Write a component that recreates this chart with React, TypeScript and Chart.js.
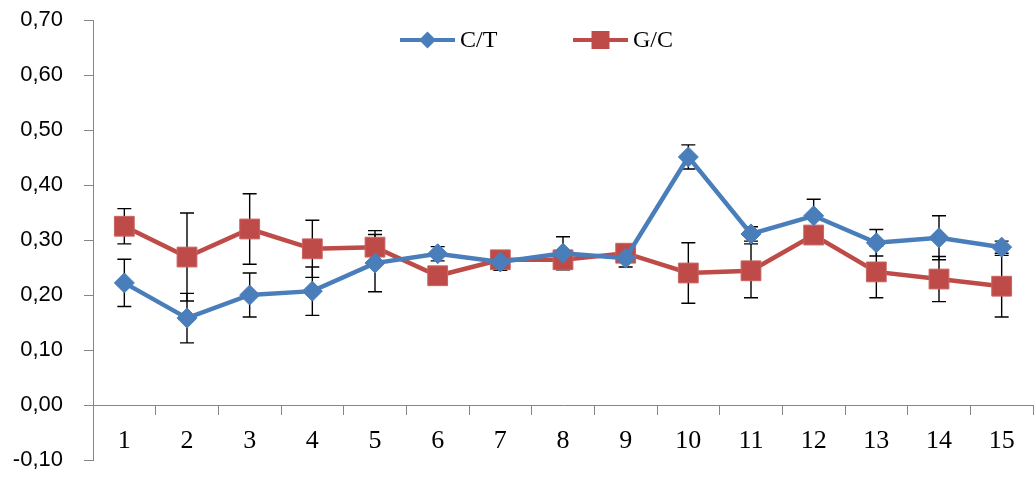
import React, { useEffect, useRef } from "react";
import { Chart, registerables } from "chart.js";

Chart.register(...registerables);

const categories = ["1", "2", "3", "4", "5", "6", "7", "8", "9", "10", "11", "12", "13", "14", "15"];
const seriesNames = ["C/T", "G/C"];
const ctValues = [0.222, 0.158, 0.2, 0.207, 0.258, 0.275, 0.26, 0.276, 0.267, 0.451, 0.311, 0.344, 0.295, 0.304, 0.287];
const ctErrors = [0.043, 0.045, 0.04, 0.044, 0.052, 0.013, 0.015, 0.03, 0.016, 0.022, 0.013, 0.03, 0.024, 0.04, 0.011];
const gcValues = [0.325, 0.269, 0.32, 0.284, 0.287, 0.235, 0.264, 0.264, 0.276, 0.24, 0.244, 0.309, 0.242, 0.229, 0.216];
const gcErrors = [0.032, 0.08, 0.064, 0.052, 0.03, 0.015, 0.01, 0.01, 0.01, 0.055, 0.049, 0.015, 0.047, 0.041, 0.056];
const yMin = -0.1;
const yMax = 0.7;
const yStep = 0.1;

const BLUE = "#4a7ebb";
const RED = "#be4b48";
const AXIS = "#868686";

const errorBarPlugin = {
  id: "errorBars",
  beforeDatasetsDraw(chart: any) {
    const ctx = chart.ctx;
    const yScale = chart.scales.y;
    ctx.save();
    ctx.strokeStyle = "#000";
    ctx.lineWidth = 1.4;
    chart.data.datasets.forEach((ds: any, di: number) => {
      const meta = chart.getDatasetMeta(di);
      const errs: number[] = ds.errors || [];
      meta.data.forEach((pt: any, i: number) => {
        const v = ds.data[i];
        const e = errs[i];
        if (v == null || e == null) return;
        const x = pt.x;
        const yTop = yScale.getPixelForValue(v + e);
        const yBot = yScale.getPixelForValue(v - e);
        const cap = 7;
        ctx.beginPath();
        ctx.moveTo(x, yTop);
        ctx.lineTo(x, yBot);
        ctx.moveTo(x - cap, yTop);
        ctx.lineTo(x + cap, yTop);
        ctx.moveTo(x - cap, yBot);
        ctx.lineTo(x + cap, yBot);
        ctx.stroke();
      });
    });
    ctx.restore();
  },
};

const legendPlugin = {
  id: "customLegend",
  afterDraw(chart: any) {
    const ctx = chart.ctx;
    const items = [
      { label: seriesNames[0], color: BLUE, style: "diamond", x: 400 },
      { label: seriesNames[1], color: RED, style: "square", x: 573 },
    ];
    const y = 40;
    ctx.save();
    items.forEach((it) => {
      ctx.strokeStyle = it.color;
      ctx.lineWidth = 4;
      ctx.beginPath();
      ctx.moveTo(it.x, y);
      ctx.lineTo(it.x + 55, y);
      ctx.stroke();
      const cx = it.x + 27.5;
      ctx.fillStyle = it.color;
      ctx.beginPath();
      if (it.style === "diamond") {
        const r = 8.5;
        ctx.moveTo(cx, y - r);
        ctx.lineTo(cx + r, y);
        ctx.lineTo(cx, y + r);
        ctx.lineTo(cx - r, y);
        ctx.closePath();
      } else {
        const s = 9;
        ctx.rect(cx - s, y - s, 2 * s, 2 * s);
      }
      ctx.fill();
      ctx.fillStyle = "#000";
      ctx.font = "24px 'Liberation Serif'";
      ctx.textBaseline = "middle";
      ctx.textAlign = "left";
      ctx.fillText(it.label, it.x + 60, y + 1);
    });
    ctx.restore();
  },
};

export default function App() {
  const ref = useRef<HTMLCanvasElement | null>(null);

  useEffect(() => {
    document.body.style.margin = "0";
    if (!ref.current) return;
    const chart = new Chart(ref.current, {
      type: "line",
      data: {
        labels: categories,
        datasets: [
          {
            label: seriesNames[0],
            data: ctValues,
            errors: ctErrors,
            borderColor: BLUE,
            backgroundColor: BLUE,
            borderWidth: 4.5,
            pointStyle: "rectRot",
            pointRadius: 10,
            pointBorderWidth: 1,
            pointBackgroundColor: BLUE,
            pointBorderColor: BLUE,
            tension: 0,
          } as any,
          {
            label: seriesNames[1],
            data: gcValues,
            errors: gcErrors,
            borderColor: RED,
            backgroundColor: RED,
            borderWidth: 4.5,
            pointStyle: "rect",
            pointRadius: 14,
            pointBorderWidth: 1,
            pointBackgroundColor: RED,
            pointBorderColor: "#c86462",
            tension: 0,
          } as any,
        ],
      },
      options: {
        animation: false,
        responsive: false,
        layout: { autoPadding: false, padding: { top: 20, bottom: 18, left: 0, right: 2 } },
        plugins: {
          legend: { display: false },
          tooltip: { enabled: false },
        },
        scales: {
          x: {
            type: "category",
            offset: true,
            position: { y: 0 } as any,
            grid: {
              drawOnChartArea: false,
              offset: true,
              tickLength: 9,
              color: AXIS,
            },
            border: { color: AXIS, width: 1 },
            ticks: {
              font: { family: "'Liberation Serif'", size: 26 },
              color: "#000",
              padding: 12,
              maxRotation: 0,
              autoSkip: false,
            },
            afterFit: (s: any) => {
              s.paddingLeft = 0;
              s.paddingRight = 0;
              s.paddingTop = 0;
              s.paddingBottom = 0;
            },
          },
          y: {
            min: yMin,
            max: yMax,
            grid: { drawOnChartArea: false, tickLength: 9, color: AXIS },
            border: { color: AXIS, width: 1 },
            ticks: {
              stepSize: yStep,
              color: "#000",
              padding: 21,
              font: { family: "'Liberation Sans'", size: 22 },
              callback: (v: any) => (Math.round(Number(v) * 100) / 100).toFixed(2).replace(".", ","),
            },
            afterFit: (s: any) => {
              s.width = 93;
              s.paddingTop = 0;
              s.paddingBottom = 0;
              s.paddingLeft = 0;
              s.paddingRight = 0;
            },
          },
        },
      } as any,
      plugins: [errorBarPlugin, legendPlugin],
    });
    return () => chart.destroy();
  }, []);

  return (
    <div style={{ position: "fixed", left: 0, top: 0, width: 1035, height: 478, background: "#fff" }}>
      <canvas ref={ref} width={1035} height={478} />
    </div>
  );
}
